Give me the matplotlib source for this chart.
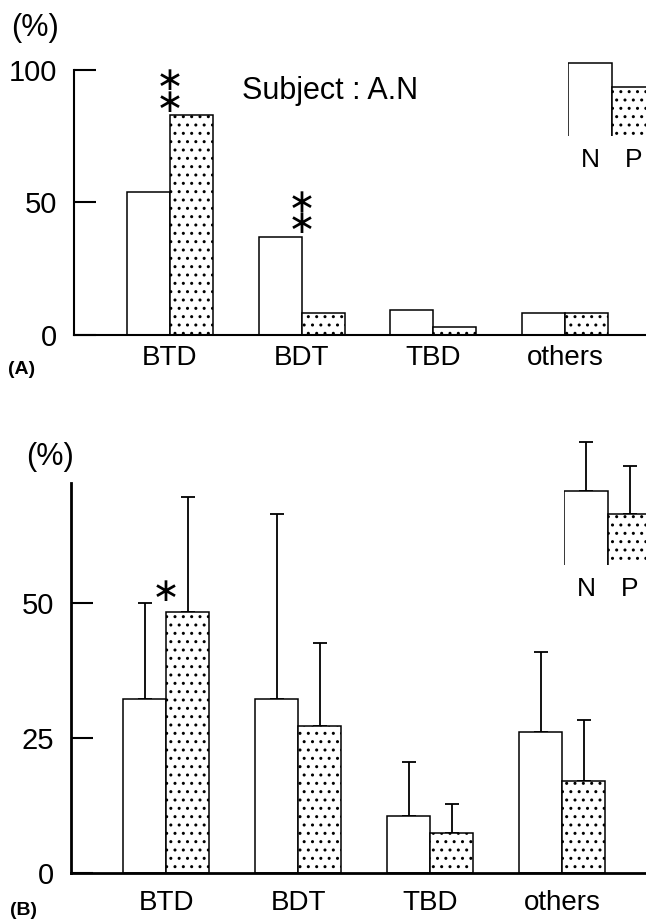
import numpy as np
import matplotlib
matplotlib.use("Agg")
from matplotlib import pyplot as plt

plt.rcParams['font.family'] = ['Liberation Sans', 'DejaVu Sans']
plt.rcParams['hatch.linewidth'] = 1.0

# data
cats = ['BTD', 'BDT', 'TBD', 'others']
a_normal = [54, 37, 9.4, 8.3]
a_patient = [83, 8.3, 3, 8.3]
a_stars = [(0, 2), (1, 2)]   # (group, number of stars)

b_normal = [32.2, 32.2, 10.6, 26.1]
b_patient = [48.3, 27.2, 7.4, 17.0]
b_normal_sd = [17.8, 34.3, 10.0, 14.9]
b_patient_sd = [21.3, 15.4, 5.4, 11.3]
b_stars = [(0, 1)]

legend_labels = ['N', 'P']
legend_a = [1.0, 0.685]
legend_b = [1.0, 0.693]
legend_b_sd = [0.64, 0.627]

W = 0.326
x = np.arange(len(cats))

fig = plt.figure(figsize=(6.46, 9.21), dpi=100)


def draw_bars(ax, normal, patient, nsd=None, psd=None):
    ax.bar(x - W/2, normal, W, color='white', edgecolor='black', linewidth=1.1, zorder=2)
    ax.bar(x + W/2, patient, W, color='white', edgecolor='black', linewidth=1.1,
           hatch='..', zorder=2)
    if nsd is not None:
        ax.errorbar(x - W/2, normal, yerr=[np.zeros(len(x)), nsd], fmt='none',
                    ecolor='black', elinewidth=1.3, capsize=4.7, capthick=1.3, zorder=1)
        ax.errorbar(x + W/2, patient, yerr=[np.zeros(len(x)), psd], fmt='none',
                    ecolor='black', elinewidth=1.3, capsize=4.7, capthick=1.3, zorder=1)


def style_axis(ax, lw):
    for s in ['top', 'right']:
        ax.spines[s].set_visible(False)
    ax.spines['left'].set_linewidth(lw)
    ax.spines['bottom'].set_linewidth(lw)
    ax.tick_params(axis='y', direction='in', length=16, width=1.5, labelsize=21, pad=12)
    ax.tick_params(axis='x', length=0, labelsize=20)
    ax.set_xticks(x)
    ax.set_xticklabels(cats)


def put_stars(ax, stars, normal, patient, off):
    for g, n in stars:
        h = max(normal[g], patient[g])
        ax.annotate('\n'.join(['\u2217'] * n), xy=(x[g], h), xytext=(0, off),
                    textcoords='offset points', ha='center', va='bottom',
                    fontsize=24, family='DejaVu Sans', linespacing=0.55)


# ---- (A)
axA = fig.add_axes([74/646, 1-335/921, 1-74/646, 265/921])
draw_bars(axA, a_normal, a_patient)
style_axis(axA, 1.5)
axA.set_ylim(0, 100)
axA.set_yticks([0, 50, 100])
axA.set_xlim(-0.729, 3.615)
axA.tick_params(axis='x', pad=7)
put_stars(axA, a_stars, a_normal, a_patient, -2.5)
axA.text(0.448, 0.92, 'Subject : A.N', transform=axA.transAxes, ha='center', va='center',
         fontsize=22)
fig.text(35/646, 1-28/921, '(%)', ha='center', va='center', fontsize=22)
fig.text(8/646, 1-369/921, '(A)', ha='left', va='center', fontsize=14, fontweight='bold')

# legend A
lgA = fig.add_axes([568/646, 1-136/921, 88/646, 73*1.1/921])
lgA.bar([0.5, 1.5], legend_a, 1.0, color='white', edgecolor='black', linewidth=1.1)
lgA.patches[1].set_hatch('..')
lgA.set_xlim(0, 2)
lgA.set_ylim(0.02, 1.1)
lgA.axis('off')
for i, lab in enumerate(legend_labels):
    lgA.annotate(lab, xy=(0.5 + i, 0.02), xytext=(0, -17), textcoords='offset points',
                 ha='center', va='center', fontsize=19)

# ---- (B)
axB = fig.add_axes([71/646, 1-873/921, 1-71/646, 390/921])
draw_bars(axB, b_normal, b_patient, b_normal_sd, b_patient_sd)
style_axis(axB, 2.0)
axB.set_ylim(0, 72.2)
axB.set_yticks([0, 25, 50])
axB.set_xlim(-0.72, 3.636)
axB.tick_params(axis='x', pad=12)
put_stars(axB, b_stars, b_normal, b_patient, 3)
fig.text(50/646, 1-457/921, '(%)', ha='center', va='center', fontsize=22)
fig.text(10/646, 1-910/921, '(B)', ha='left', va='center', fontsize=14, fontweight='bold')

# legend B
lgB = fig.add_axes([564/646, 1-565/921, 88/646, 75*1.75/921])
lgB.bar([0.5, 1.5], legend_b, 1.0, color='white', edgecolor='black', linewidth=1.1, zorder=2)
lgB.patches[1].set_hatch('..')
lgB.errorbar([0.5, 1.5], legend_b, yerr=[[0, 0], legend_b_sd], fmt='none', ecolor='black',
             elinewidth=1.3, capsize=4.7, capthick=1.3, zorder=1, clip_on=False)
lgB.set_xlim(0, 2)
lgB.set_ylim(0.02, 1.75)
lgB.axis('off')
for i, lab in enumerate(legend_labels):
    lgB.annotate(lab, xy=(0.5 + i, 0.02), xytext=(0, -17), textcoords='offset points',
                 ha='center', va='center', fontsize=19)

fig.savefig('out.png', dpi=100)
